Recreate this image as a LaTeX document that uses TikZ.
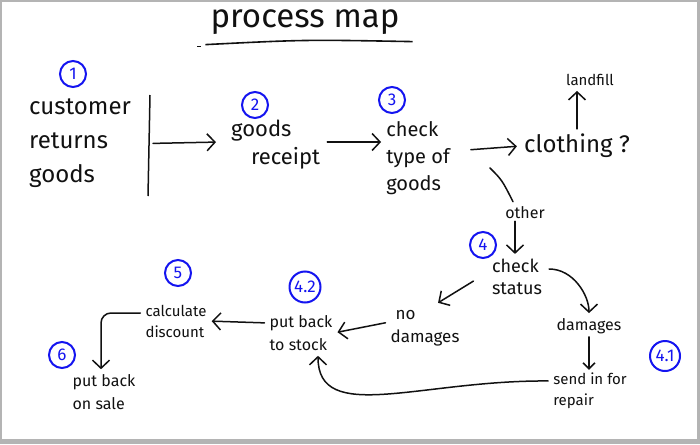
\documentclass[tikz,border=0pt]{standalone}
\usepackage{fontspec}
\setmainfont{Fira Sans}
\usetikzlibrary{arrows.meta,positioning,calc}
\definecolor{pen}{HTML}{111111}
\definecolor{ink}{HTML}{1414F0}
\definecolor{frame}{HTML}{B4B4B4}

\begin{document}
\begin{tikzpicture}[x=1pt,y=-1pt,>={Straight Barb[length=8pt,width=17pt]},
    txt/.style={align=left,inner sep=1pt,text=pen},
    big/.style={txt,font=\fontsize{24}{34}\selectfont},
    mid/.style={txt,font=\fontsize{20}{27}\selectfont},
    small/.style={txt,font=\fontsize{16}{23}\selectfont},
    num/.style={circle,draw=ink,text=ink,line width=2pt,inner sep=1.5pt,
      minimum size=26pt,font=\fontsize{17}{17}\selectfont},
    flow/.style={->,line width=1.5pt,pen,line cap=round,shorten >=4pt,shorten <=4pt}]
      % sheet
      \fill[frame] (0,0) rectangle (700,444);
      \fill[white] (2,2) rectangle (697,439);
      \useasboundingbox (0,0) rectangle (700,444);

      % title
      \node[txt,font=\fontsize{33}{33}\selectfont] (title) at (305,22) {process map};
      \draw[line width=1.6pt,pen] ($(title.south west)+(-4,9)$) .. controls ($(title.south)+(0,4)$) .. ($(title.south east)+(12,6)$);
      \draw[line width=1.3pt,pen] ($(title.south west)+(-12,11)$) -- ++(4,0);

      % top row
      \node[num] (n1) at (73,74) {1};
      \node[big,anchor=west] (cust) at (28,143) {customer\\returns\\goods};
      \coordinate (barTop) at (150,95);
      \coordinate (barBot) at (148,196);
      \draw[line width=1.5pt,pen] (barTop) -- (barBot);

      \node[num] (n2) at (255,105) {2};
      \node[mid,anchor=west,font=\fontsize{22}{28}\selectfont] (receipt) at (230,145) {goods\\\hspace*{0.9em}receipt};

      \node[num] (n3) at (392,100) {3};
      \node[mid] (type) at (418,158) {check\\type of\\goods};

      \node[big] (cloth) at (577,146) {clothing ?};
      \node[small,font=\fontsize{15}{15}\selectfont] (fill) at (590,80) {landfill};

      \draw[flow] ($(barTop)!0.48!(barBot)$) -- ($(receipt.west)+(-10,-3)$);
      \draw[flow] ($(receipt.east)+(2,-3)$) -- ($(type.west |- receipt.east)+(0,-3)$);
      \draw[flow] ($(type.east)+(16,-8)$) -- ($(cloth.west)+(-2,0)$);
      \draw[flow] (cloth.north) -- (cloth.north |- fill.south);

      % other goods
      \node[small] (other) at (525,213) {other};
      \coordinate (split) at (490,168);
      \draw[line width=1.5pt,pen,line cap=round] (split) .. controls (502,180) .. ($(other.north)+(-12,-4)$);
      \node[num] (n4) at (483,245) {4};
      \node[mid,font=\fontsize{18}{22}\selectfont] (status) at (517,277) {check\\status};
      \draw[flow,shorten <=1pt] ($(other.south)+(-10,0)$) -- ($(status.north)+(-2,0)$);

      % status branches
      \node[small,font=\fontsize{17}{23}\selectfont] (nodam) at (425,328) {\hspace*{0.3em}no\\damages};
      \node[small] (dam) at (589,326) {damages};
      \node[small,font=\fontsize{15}{21}\selectfont] (repair) at (590,391) {send in for\\repair};
      \node[num,minimum size=30pt] (n41) at (665,356) {4.1};
      \draw[flow] ($(status.west)+(-14,2)$) -- ($(nodam.north east)+(-26,-4)$);
      \draw[flow] ($(status.east)+(2,-8)$) .. controls +(28,0) and +(0,-22) .. (dam.north);
      \draw[flow,>={Straight Barb[length=6pt,width=12pt]},shorten <=2pt,shorten >=2pt] (dam.south) -- (repair.north -| dam.south);

      % back to stock
      \node[small] (stock) at (301,333) {put back\\to stock};
      \node[num,minimum size=31pt] (n42) at (305,287) {4.2};
      \draw[flow] ($(nodam.west)+(0,-6)$) -- (stock.east);
      \draw[flow] ($(repair.west)+(0,-10)$) .. controls (420,380) and (318,425) .. (stock.south -| 318,0);

      % sale
      \node[small,font=\fontsize{15}{21}\selectfont] (disc) at (176,321) {calculate\\discount};
      \node[num] (n5) at (178,273) {5};
      \node[small] (sale) at (104,392) {put back\\on sale};
      \node[num] (n6) at (62,355) {6};
      \draw[flow] ($(stock.west)+(0,-10)$) -- (disc.east);
      \draw[flow,rounded corners=10pt] ($(disc.west)+(0,-8)$) -| ($(sale.north)+(-3,0)$);
    \end{tikzpicture}
\end{document}
